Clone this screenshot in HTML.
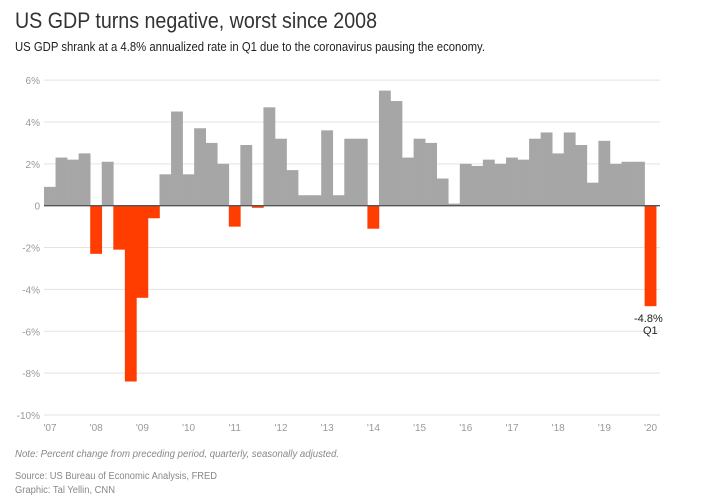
<!DOCTYPE html>
<html><head><meta charset="utf-8"><style>
html,body{margin:0;padding:0;background:#fff;}
svg{display:block;font-family:"Liberation Sans",sans-serif;}
</style></head><body>
<svg id="s" width="713" height="500" viewBox="0 0 713 500" xmlns="http://www.w3.org/2000/svg">
<text x="15" y="28" font-size="22" fill="#333" textLength="362" lengthAdjust="spacingAndGlyphs">US GDP turns negative, worst since 2008</text>
<text x="15" y="51" font-size="13" fill="#222" textLength="470" lengthAdjust="spacingAndGlyphs">US GDP shrank at a 4.8% annualized rate in Q1 due to the coronavirus pausing the economy.</text>
<g id="grid"></g>
<g id="bars"></g>
<line x1="44" y1="205.7" x2="660" y2="205.7" stroke="#555" stroke-width="1.3"/>
<text x="634" y="322" font-size="11" fill="#222">-4.8%</text>
<text x="643" y="334" font-size="11" fill="#222">Q1</text>
<text x="15" y="457" font-size="10" font-style="italic" fill="#888" textLength="324" lengthAdjust="spacingAndGlyphs">Note: Percent change from preceding period, quarterly, seasonally adjusted.</text>
<text x="15" y="479" font-size="10" fill="#888" textLength="202" lengthAdjust="spacingAndGlyphs">Source: US Bureau of Economic Analysis, FRED</text>
<text x="15" y="493" font-size="10" fill="#888" textLength="100" lengthAdjust="spacingAndGlyphs">Graphic: Tal Yellin, CNN</text>
</svg>
<script>
var NS="http://www.w3.org/2000/svg";
function el(p,t,a,txt){var e=document.createElementNS(NS,t);for(var k in a)e.setAttribute(k,a[k]);if(txt!==undefined)e.textContent=txt;document.getElementById(p).appendChild(e);}
var y0=205.7,u=20.93;
var labs={6:"6%",4:"4%",2:"2%",0:"0","-2":"-2%","-4":"-4%","-6":"-6%","-8":"-8%","-10":"-10%"};
for(var v=6;v>=-10;v-=2){var y=y0-v*u;
 if(v!==0)el("grid","line",{x1:44,x2:660,y1:y,y2:y,stroke:"#e3e3e3","stroke-width":1});
 el("grid","text",{x:40,y:y+4,"font-size":10,fill:"#999","text-anchor":"end"},labs[v]);}
var d=[0.9,2.3,2.2,2.5,-2.3,2.1,-2.1,-8.4,-4.4,-0.6,1.5,4.5,1.5,3.7,3.0,2.0,-1.0,2.9,-0.1,4.7,3.2,1.7,0.5,0.5,3.6,0.5,3.2,3.2,-1.1,5.5,5.0,2.3,3.2,3.0,1.3,0.1,2.0,1.9,2.2,2.0,2.3,2.2,3.2,3.5,2.5,3.5,2.9,1.1,3.1,2.0,2.1,2.1,-4.8];
var w=11.55,x0=44;
d.forEach(function(v,i){var x=x0+i*w,h=Math.abs(v)*u;
 el("bars","rect",{x:x,y:v>=0?y0-h:y0,width:w+0.3,height:h,fill:v>=0?"#a6a6a6":"#ff3d00"});});
for(var k=0;k<=13;k++){var yr=7+k;el("grid","text",{x:x0+k*4*w+6,y:431,"font-size":10,fill:"#999","text-anchor":"middle"},"'"+(yr<10?"0"+yr:yr));}
</script>
</body></html>
